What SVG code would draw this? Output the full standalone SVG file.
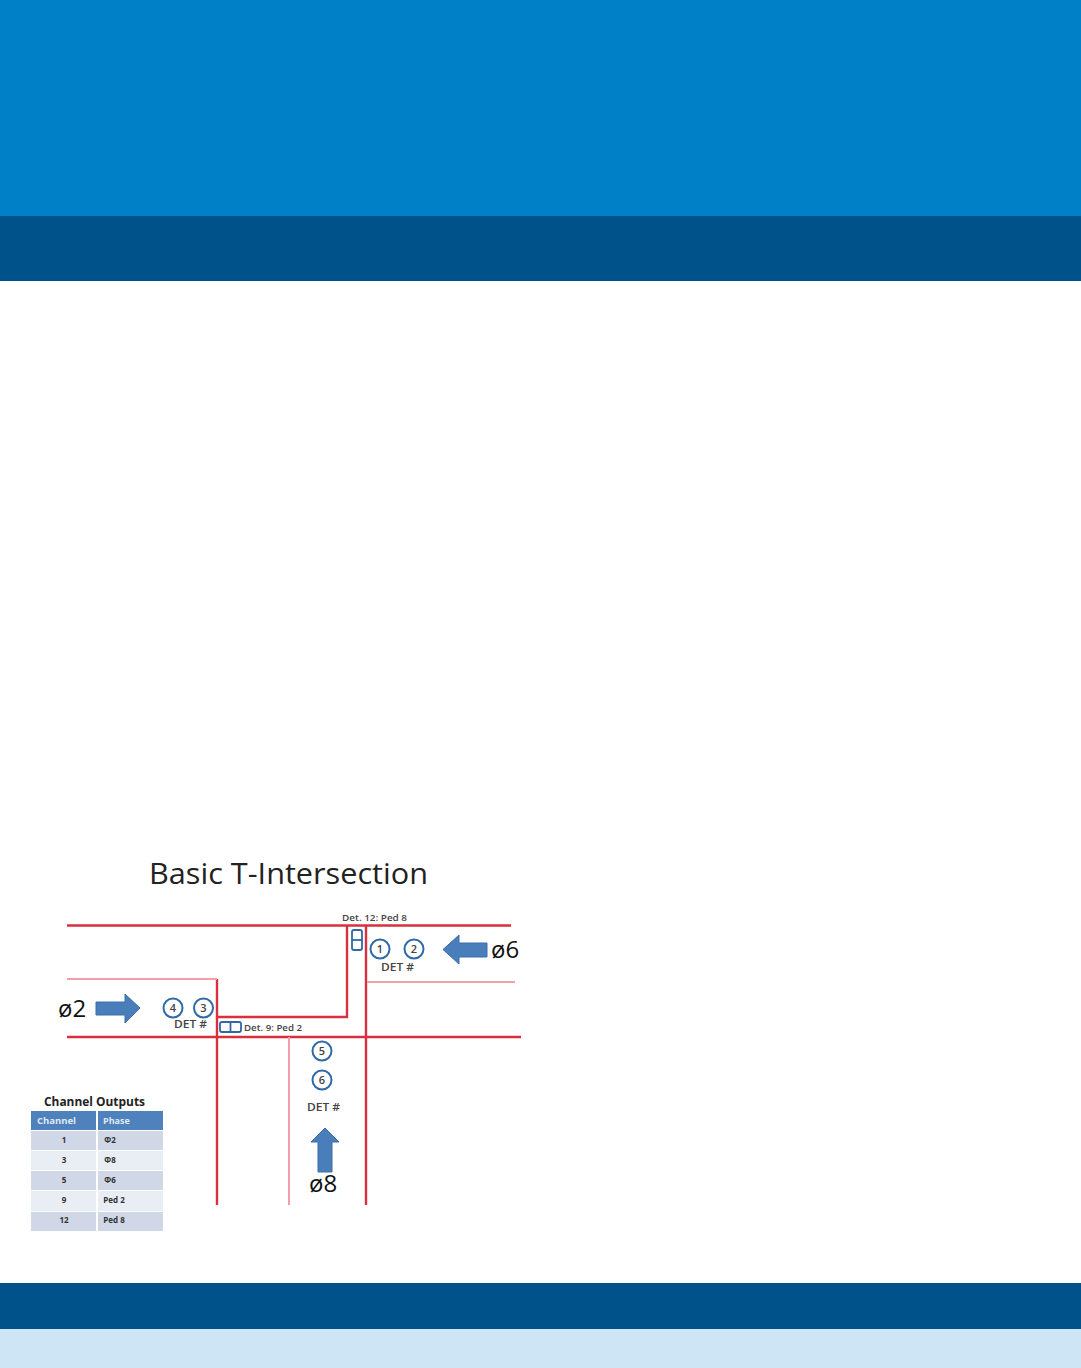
<svg xmlns="http://www.w3.org/2000/svg" width="1081" height="1368" viewBox="0 0 1081 1368">
<style>
text{font-family:"Open Sans","Noto Sans","Liberation Sans",sans-serif;fill:#222}
.r{stroke:#d9303e;stroke-width:2.400;fill:none}
.p{stroke:#f0a0a6;stroke-width:2;fill:none}
.c{fill:#fff;stroke:#2f69a8;stroke-width:2}
.n{font-size:11px;font-weight:600;text-anchor:middle;fill:#444}
.d{font-size:11px;font-weight:600;fill:#444}
.s{font-size:9.500px;font-weight:600;fill:#444}
.ph{font-size:24px;fill:#111}
.a{fill:#4a7ebb;stroke:#3a6ea8;stroke-width:1}
.det{fill:#fff;stroke:#2f69a8;stroke-width:1.800}
.t{font-size:8px;font-weight:700;fill:#333;text-anchor:middle}
.th{font-size:9px;font-weight:700;fill:#dfe8f4}
</style>
<g id="bands">
<rect width="1081" height="216" fill="#0080c6"/>
<rect y="216" width="1081" height="65" fill="#00528a"/>
<rect y="1283" width="1081" height="46" fill="#00528a"/>
<rect y="1329" width="1081" height="39" fill="#cde5f4"/>
</g>
<text id="title" x="149" y="884" font-size="30" textLength="279" lengthAdjust="spacingAndGlyphs" style="fill:#222">Basic T-Intersection</text>
<g id="connectors">
<path class="r" d="M67 925.500H511M67 1037H521M217 979V1205M366 925V1205M217 1017H347V925"/>
<path class="p" d="M67 979H217M367 982H515M289 1037V1205"/>
</g>
<g id="node-det12">
<text class="s" x="342" y="921" textLength="65" lengthAdjust="spacingAndGlyphs">Det. 12: Ped 8</text>
<rect class="det" x="352" y="930" width="10" height="20" rx="2"/>
<path class="det" d="M352 940H362"/>
</g>
<g id="node-det9">
<rect class="det" x="220" y="1022" width="21" height="10" rx="2"/>
<path class="det" d="M230.500 1022V1032"/>
<text class="s" x="244" y="1031" textLength="58" lengthAdjust="spacingAndGlyphs">Det. 9: Ped 2</text>
</g>
<g id="node-1"><circle class="c" cx="380" cy="949" r="9.500"/><text class="n" x="380" y="953">1</text></g>
<g id="node-2"><circle class="c" cx="414" cy="949" r="9.500"/><text class="n" x="414" y="953">2</text></g>
<text class="d" x="381" y="971" textLength="33" lengthAdjust="spacingAndGlyphs">DET #</text>
<g id="node-4"><circle class="c" cx="173" cy="1008" r="9.500"/><text class="n" x="173" y="1012">4</text></g>
<g id="node-3"><circle class="c" cx="203.500" cy="1008" r="9.500"/><text class="n" x="203.500" y="1012">3</text></g>
<text class="d" x="174" y="1028" textLength="33" lengthAdjust="spacingAndGlyphs">DET #</text>
<g id="node-5"><circle class="c" cx="322" cy="1051" r="9.500"/><text class="n" x="322" y="1055">5</text></g>
<g id="node-6"><circle class="c" cx="322" cy="1080" r="9.500"/><text class="n" x="322" y="1084">6</text></g>
<text class="d" x="307" y="1111" textLength="33" lengthAdjust="spacingAndGlyphs">DET #</text>
<g id="arrow-phase6">
<path class="a" d="M443 949.500L459 935V943H487V957H459V964Z"/>
<text class="ph" x="491" y="958">ø6</text>
</g>
<g id="arrow-phase2">
<path class="a" d="M96 1002H125V994L140 1008L125 1023V1015H96Z"/>
<text class="ph" x="58" y="1017">ø2</text>
</g>
<g id="arrow-phase8">
<path class="a" d="M325 1128L339 1142H332V1172H318V1142H311Z"/>
<text class="ph" x="309" y="1192">ø8</text>
</g>
<g id="channel-table">
<text x="44" y="1106" font-size="12" font-weight="700" textLength="101" lengthAdjust="spacingAndGlyphs" style="fill:#222">Channel Outputs</text>
<rect x="31" y="1111" width="65" height="19" fill="#4f81bd"/>
<rect x="98" y="1111" width="65" height="19" fill="#4f81bd"/>
<text class="th" x="37" y="1124" textLength="39" lengthAdjust="spacingAndGlyphs">Channel</text>
<text class="th" x="103" y="1124">Phase</text>
<g fill="#d0d8e8">
<rect x="31" y="1131" width="65" height="19"/><rect x="98" y="1131" width="65" height="19"/>
<rect x="31" y="1171" width="65" height="19"/><rect x="98" y="1171" width="65" height="19"/>
<rect x="31" y="1212" width="65" height="19"/><rect x="98" y="1212" width="65" height="19"/>
</g>
<g fill="#e9edf4">
<rect x="31" y="1151" width="65" height="19"/><rect x="98" y="1151" width="65" height="19"/>
<rect x="31" y="1191" width="65" height="20"/><rect x="98" y="1191" width="65" height="20"/>
</g>
<text class="t" x="64" y="1143">1</text><text class="t" x="110" y="1143">Φ2</text>
<text class="t" x="64" y="1163">3</text><text class="t" x="110" y="1163">Φ8</text>
<text class="t" x="64" y="1183">5</text><text class="t" x="110" y="1183">Φ6</text>
<text class="t" x="64" y="1203">9</text><text class="t" x="114" y="1203">Ped 2</text>
<text class="t" x="64" y="1223">12</text><text class="t" x="114" y="1223">Ped 8</text>
</g>
</svg>
